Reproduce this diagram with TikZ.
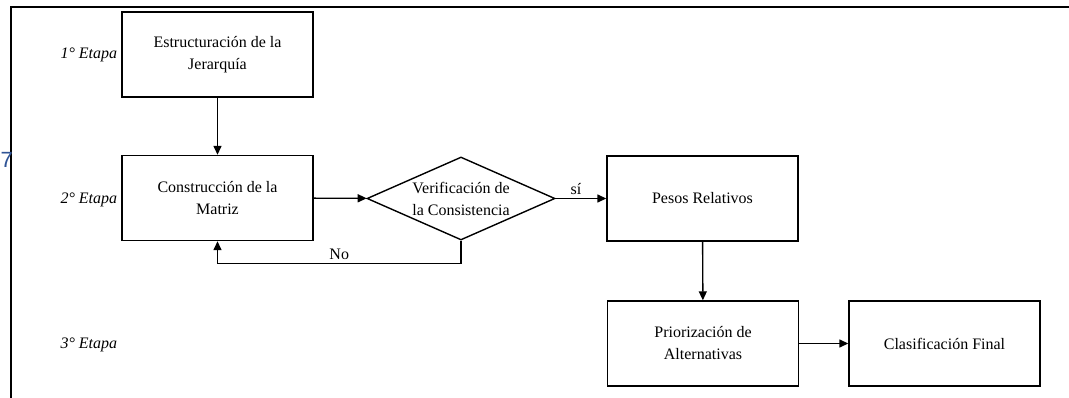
\documentclass[tikz,border=0pt]{standalone}
\usepackage{fontspec}
\setmainfont{Liberation Serif}
\setsansfont{Liberation Sans}
\usetikzlibrary{shapes.geometric,arrows.meta}
\begin{document}
\begin{tikzpicture}[x=1pt,y=-1pt,
  box/.style={draw, line width=1.4pt, minimum width=191pt, minimum height=85pt,
    align=center, inner sep=0pt, font=\fontsize{16}{22}\selectfont},
  dec/.style={draw, diamond, line width=1.4pt, minimum width=188pt, minimum height=83pt,
    aspect=2.26, inner sep=0pt, align=center, font=\fontsize{16}{22}\selectfont},
  stage/.style={font=\fontsize{16}{20}\selectfont\itshape, anchor=west},
  lbl/.style={font=\fontsize{16}{20}\selectfont},
  arr/.style={-{Triangle[length=9pt,width=8pt]}, line width=1.4pt},
  frame/.style={line width=1.5pt}]
\useasboundingbox (0,0) rectangle (1069,398);
% outer frame
\coordinate (fa) at (11,398);
\coordinate (fb) at (11,7);
\coordinate (fc) at (1069,7);
\draw[frame] (fa) -- (fb) -- (fc);
% stray page number
\node[font=\sffamily\fontsize{22}{22}\selectfont, text={rgb,255:red,47;green,84;blue,150}, anchor=west, inner sep=0pt] (pg) at (0.5,160) {7};
% stage labels
\node[stage] (s1) at (57,55) {1° Etapa};
\node[stage] (s2) at (57,200) {2° Etapa};
\node[stage] (s3) at (57,345) {3° Etapa};
% boxes
\node[box] (estr) at (217.5,54.5) {Estructuración de la\\Jerarquía};
\node[box] (cons) at (217.5,198) {Construcción de la\\Matriz};
\node[dec] (veri) at (461,198.5) {Verificación de\\la Consistencia};
\node[box] (peso) at (702.5,198.5) {Pesos Relativos};
\node[box] (prio) at (703,343.5) {Priorización de\\Alternativas};
\node[box] (clas) at (944.5,343.5) {Clasificación Final};
% connectors
\draw[arr] (estr) -- (cons);
\draw[arr] (cons) -- (veri);
\draw[arr] (veri) -- node[lbl, above, pos=0.4] (si) {sí} (peso);
\draw[arr] (veri.south) -- ++(0,23) -| node[lbl, pos=0.25, above] (no) {No} (cons.south);
\draw[arr] (peso) -- (prio);
\draw[arr] (prio) -- (clas);
\end{tikzpicture}
\end{document}
